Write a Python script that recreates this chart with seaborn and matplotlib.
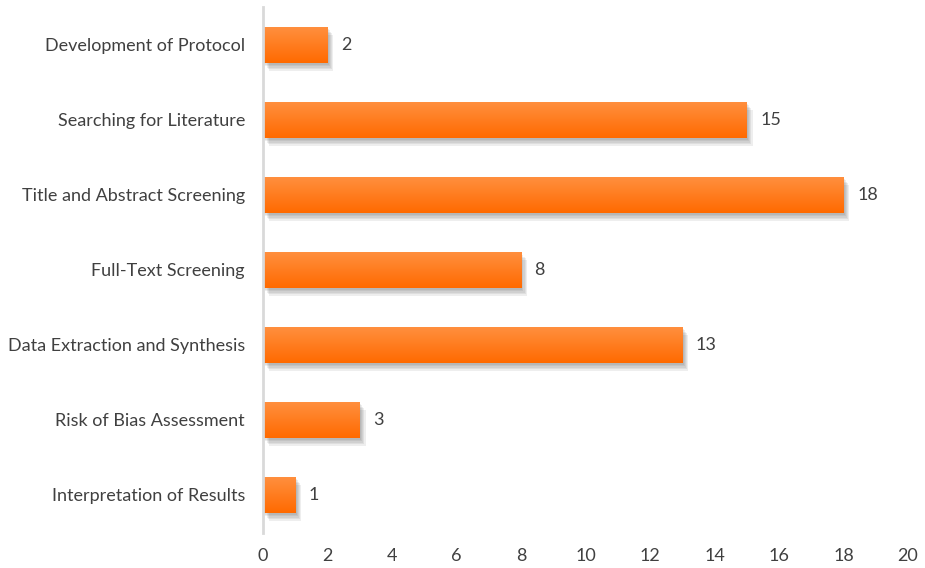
import numpy as np
import pandas as pd
import matplotlib
matplotlib.use("Agg")
import matplotlib.pyplot as plt
import matplotlib.patheffects as pe
from matplotlib.colors import LinearSegmentedColormap
import seaborn as sns

categories = [
    "Development of Protocol",
    "Searching for Literature",
    "Title and Abstract Screening",
    "Full-Text Screening",
    "Data Extraction and Synthesis",
    "Risk of Bias Assessment",
    "Interpretation of Results",
]
counts = [2, 15, 18, 8, 13, 3, 1]
x_ticks = [0, 2, 4, 6, 8, 10, 12, 14, 16, 18, 20]

df = pd.DataFrame({"stage": categories, "count": counts})

sns.set_style("white")
plt.rcParams["font.family"] = ["Lato", "DejaVu Sans"]

fig = plt.figure(figsize=(9.25, 5.68), dpi=100)
ax = fig.add_axes([0.2843, 0.0625, 0.6973, 0.9243])

sns.barplot(data=df, x="count", y="stage", orient="h", color="#ff7a1a",
            width=0.48, ax=ax, saturation=1, linewidth=0)

# vertical gradient fill with a soft drop shadow on every bar
cmap = LinearSegmentedColormap.from_list("orange", ["#ff9040", "#ff6a00"])
grad = np.linspace(0, 1, 256).reshape(-1, 1)
shadow = [pe.SimplePatchShadow(offset=(d, -d * 1.3), alpha=0.09,
                               shadow_rgbFace="#444444")
          for d in (1, 1.8, 2.6, 3.4, 4.2)]
for patch in ax.patches:
    patch.set_path_effects(shadow + [pe.Normal()])
    x0, y0 = patch.get_x(), patch.get_y()
    w, h = patch.get_width(), patch.get_height()
    im = ax.imshow(grad, cmap=cmap, aspect="auto",
                   extent=(x0, x0 + w, y0 + h, y0), zorder=patch.get_zorder() + 0.1)
    im.set_clip_path(patch)

for i, v in enumerate(counts):
    ax.text(v + 0.42, i, str(v), va="center", ha="left",
            fontsize=13, color="#404040")

ax.set_xlim(0, 20)
ax.set_ylim(6.5, -0.5)
ax.set_xticks(x_ticks)
ax.set_xlabel("")
ax.set_ylabel("")
ax.tick_params(axis="both", length=0, labelsize=13, colors="#404040")
ax.tick_params(axis="y", pad=13)
ax.tick_params(axis="x", pad=11)
for side in ["top", "right", "bottom"]:
    ax.spines[side].set_visible(False)
ax.spines["left"].set_color("#d9d9d9")
ax.spines["left"].set_linewidth(2)

fig.savefig("out.png", dpi=100)
